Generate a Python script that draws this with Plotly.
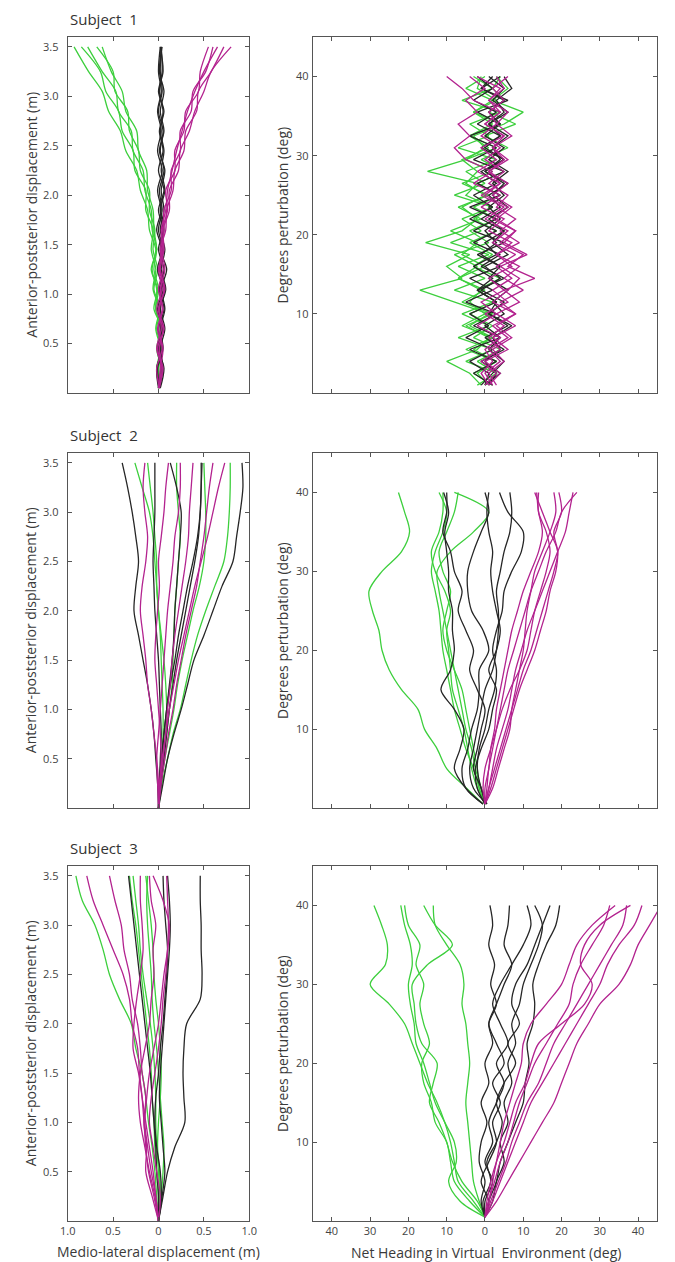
import plotly.graph_objects as go

# ======================= DATA =======================
# ---- Subject 1, left panel (medio-lateral x vs anterior-posterior y) ----
S1_LEFT_Y = [0.05, 0.25, 0.45, 0.65, 0.85, 1.05, 1.25, 1.45, 1.65, 1.85, 2.05, 2.25, 2.45, 2.65, 2.85, 3.05, 3.25, 3.5]
S1_LEFT_GREEN = [
    [0.00, 0.03, -0.02, 0.03, -0.03, -0.02, -0.07, -0.03, -0.10, -0.12, -0.20, -0.24, -0.36, -0.42, -0.55, -0.62, -0.77, -0.93],
    [0.01, -0.02, 0.02, -0.03, 0.01, -0.06, -0.03, -0.08, -0.06, -0.14, -0.14, -0.26, -0.28, -0.40, -0.44, -0.58, -0.64, -0.85],
    [0.00, 0.02, -0.01, 0.04, -0.05, -0.01, -0.08, -0.02, -0.07, -0.08, -0.15, -0.17, -0.28, -0.30, -0.44, -0.47, -0.62, -0.78],
    [0.01, 0.00, 0.03, -0.02, 0.02, -0.05, -0.01, -0.06, -0.04, -0.10, -0.10, -0.20, -0.22, -0.32, -0.34, -0.48, -0.50, -0.68],
    [0.00, 0.03, 0.00, 0.02, -0.03, 0.00, -0.05, -0.02, -0.05, -0.06, -0.12, -0.13, -0.22, -0.24, -0.36, -0.40, -0.52, -0.62],
]
S1_LEFT_BLACK = [
    [0.02, 0.06, 0.00, 0.05, 0.01, 0.07, 0.02, 0.05, 0.00, 0.04, 0.01, 0.06, 0.02, 0.05, 0.00, 0.04, 0.02, 0.03],
    [0.00, -0.02, 0.04, 0.00, 0.06, 0.01, 0.06, 0.00, 0.05, 0.00, 0.06, 0.00, 0.05, 0.01, 0.06, 0.00, 0.05, 0.02],
    [0.01, 0.05, 0.02, 0.07, 0.02, 0.08, 0.03, 0.07, 0.02, 0.06, 0.03, 0.07, 0.01, 0.06, 0.02, 0.06, 0.01, 0.04],
    [0.00, 0.03, -0.01, 0.04, -0.01, 0.05, -0.01, 0.04, -0.02, 0.03, -0.01, 0.04, -0.01, 0.03, -0.01, 0.03, 0.00, 0.02],
    [0.02, -0.01, 0.05, 0.02, 0.07, 0.03, 0.09, 0.02, 0.06, 0.02, 0.07, 0.03, 0.06, 0.02, 0.05, 0.01, 0.04, 0.03],
]
S1_LEFT_MAGENTA = [
    [0.00, 0.05, -0.01, 0.06, 0.00, 0.07, 0.02, 0.06, 0.05, 0.12, 0.12, 0.22, 0.24, 0.34, 0.40, 0.50, 0.58, 0.80],
    [0.01, -0.02, 0.04, -0.01, 0.05, 0.00, 0.05, 0.02, 0.08, 0.09, 0.16, 0.18, 0.28, 0.30, 0.42, 0.44, 0.58, 0.72],
    [0.00, 0.03, 0.01, 0.05, -0.02, 0.04, 0.00, 0.05, 0.03, 0.08, 0.10, 0.15, 0.20, 0.26, 0.32, 0.40, 0.50, 0.65],
    [0.01, 0.04, -0.02, 0.03, 0.01, 0.06, 0.01, 0.04, 0.06, 0.06, 0.14, 0.14, 0.24, 0.24, 0.36, 0.38, 0.52, 0.60],
    [0.00, 0.02, 0.05, 0.00, 0.04, 0.02, 0.07, 0.03, 0.04, 0.10, 0.08, 0.18, 0.18, 0.28, 0.30, 0.44, 0.46, 0.55],
]

# ---- Subject 1, right panel (net heading x vs perturbation y) ----
S1_RIGHT_Y = [1, 2.5, 4, 5.5, 7, 8.5, 10, 11.5, 13, 14.5, 16, 17.5, 19, 20.5, 22, 23.5, 25, 26.5, 28, 29.5, 31, 32.5, 34, 35.5, 37, 38.5, 40]
S1_RIGHT_GREEN = [
    [1, -2, 3, -3, 2, -4, 1, -8, -17, -6, -10, -4, -15.5, -6, -2, -6, 0, -5, -2, -6, 1, -4, 2, -3, 3, -2, -1],
    [0, 3, -2, 4, -3, 2, -4, 3, -2, 4, -3, 2, -4, 3, -3, 2, -5, -2, -15, -5, 0, -3, 5, 10, 2, 6, 3],
    [-1, -4, -10, -2, 1, -5, 2, -6, 0, -7, -2, -8, 1, -4, 3, -3, 4, -2, 5, -1, 6, 0, 8, 1, 5, 2, 4],
    [-2, 3, -5, 2, -7, 1, -6, 2, -8, 0, -7, 1, -9, -1, -6, 2, -8, 0, -5, 3, -7, 1, -4, 4, -6, 2, -3],
    [2, -3, 3, -5, 2, -6, 0, -4, -1, -7, 0, -6, -2, -9, -1, -7, 1, -6, 2, -5, 3, -4, 4, -3, 2, -5, 0],
]
S1_RIGHT_BLACK = [
    [0, 4, -1, 5, 0, 6, 1, 5, -1, 4, 0, 6, 2, 5, -1, 4, 1, 6, 0, 5, -1, 4, 1, 6, 2, 5, 1],
    [2, -3, 3, -4, 4, -3, 3, -5, 2, -4, 4, -2, 5, -3, 3, -4, 4, -2, 5, -3, 3, -4, 4, -2, 6, -1, 4],
    [1, 3, 0, 4, 2, 7, 1, 3, -2, 2, -3, 3, 0, 5, 1, 6, 2, 5, 0, 4, 2, 6, 1, 5, 3, 7, 5],
    [-1, 2, 5, 1, 4, 0, 5, 2, 6, 1, 4, -1, 3, 0, 4, 1, 5, 2, 6, 1, 5, 0, 4, 1, 5, -1, 2],
    [0, 1, -4, 2, -5, 1, -4, 3, -2, 5, -1, 4, -3, 3, -4, 2, -3, 3, -1, 5, 0, 4, -2, 3, -3, 2, -2],
]
S1_RIGHT_MAGENTA = [
    [1, 4, 0, 6, 2, 8, 3, 9, 5, 13, 6, 10, 4, 8, 2, 6, 0, 4, -2, 3, -1, 5, 0, 4, -3, -6, -10],
    [2, 0, 4, 1, 6, 2, 8, 4, 10, 5, 9, 3, 7, 1, 5, -1, 4, -3, 2, -5, -8, -4, -7, -2, -5, 0, -4],
    [0, 3, -1, 4, 1, 5, 0, 6, 2, 7, 3, 8, 2, 6, 0, 5, -1, 4, 1, 6, 2, 5, 0, 4, 1, 5, 3],
    [1, -1, 2, 0, 4, -2, 3, -1, 5, 1, 7, 3, 9, 4, 8, 3, 6, 1, 5, 0, 4, -1, 3, 1, 5, 2, 6],
    [3, 1, 5, 2, 7, 3, 8, 2, 6, 9, 4, 11, 5, 8, 3, 7, 2, 6, 1, 5, 2, 7, 3, 6, 1, 4, -2],
]

# ---- Subject 2, left panel ----
S2_LEFT_Y = [0, 0.25, 0.5, 0.75, 1.0, 1.25, 1.5, 1.75, 2.0, 2.25, 2.5, 2.75, 3.0, 3.25, 3.5]
S2_LEFT_GREEN = [
    [0, 0.02, 0.04, 0.05, 0.05, 0.04, 0.03, 0.02, 0.00, -0.02, -0.04, -0.06, -0.10, -0.18, -0.26],
    [0, 0.02, 0.05, 0.08, 0.09, 0.08, 0.06, 0.03, 0.00, -0.02, -0.02, -0.04, -0.06, -0.09, -0.12],
    [0, 0.03, 0.06, 0.09, 0.12, 0.15, 0.16, 0.17, 0.18, 0.20, 0.22, 0.24, 0.22, 0.20, 0.20],
    [0, 0.04, 0.10, 0.16, 0.24, 0.30, 0.36, 0.43, 0.52, 0.62, 0.72, 0.76, 0.78, 0.79, 0.79],
    [0, 0.03, 0.07, 0.12, 0.17, 0.21, 0.26, 0.32, 0.38, 0.45, 0.50, 0.52, 0.52, 0.51, 0.50],
]
S2_LEFT_BLACK = [
    [0, -0.01, -0.03, -0.05, -0.08, -0.12, -0.17, -0.22, -0.27, -0.25, -0.22, -0.25, -0.29, -0.34, -0.40],
    [0, 0.01, 0.02, 0.03, 0.02, 0.01, 0.00, -0.02, -0.04, -0.05, -0.06, -0.05, -0.04, -0.04, -0.04],
    [0, 0.02, 0.04, 0.06, 0.09, 0.12, 0.15, 0.17, 0.18, 0.20, 0.22, 0.24, 0.25, 0.20, 0.13],
    [0, 0.03, 0.06, 0.09, 0.12, 0.16, 0.20, 0.25, 0.30, 0.35, 0.40, 0.44, 0.46, 0.47, 0.47],
    [0, 0.01, 0.03, 0.06, 0.09, 0.13, 0.18, 0.22, 0.27, 0.32, 0.38, 0.43, 0.46, 0.47, 0.48],
    [0, 0.05, 0.10, 0.17, 0.25, 0.32, 0.39, 0.50, 0.60, 0.70, 0.82, 0.86, 0.90, 0.93, 0.92],
]
S2_LEFT_MAGENTA = [
    [0, 0.00, -0.02, -0.05, -0.08, -0.12, -0.14, -0.17, -0.20, -0.18, -0.14, -0.12, -0.15, -0.17, -0.15],
    [0, 0.02, 0.03, 0.02, 0.00, -0.02, -0.04, -0.03, -0.01, 0.01, 0.00, 0.03, 0.06, 0.08, 0.11],
    [0, 0.02, 0.05, 0.08, 0.10, 0.13, 0.15, 0.18, 0.22, 0.26, 0.30, 0.33, 0.34, 0.36, 0.38],
    [0, 0.03, 0.07, 0.11, 0.16, 0.20, 0.25, 0.30, 0.36, 0.42, 0.46, 0.50, 0.53, 0.56, 0.60],
    [0, 0.01, 0.04, 0.08, 0.12, 0.17, 0.22, 0.28, 0.34, 0.40, 0.47, 0.54, 0.60, 0.66, 0.73],
    [0, -0.01, -0.02, 0.00, 0.02, 0.04, 0.06, 0.08, 0.10, 0.13, 0.16, 0.18, 0.22, 0.24, 0.24],
]

# ---- Subject 2, right panel ----
S2_RIGHT_Y = [0.5, 2.5, 5, 7.5, 10, 12.5, 15, 17.5, 20, 22.5, 25, 27.5, 30, 32.5, 35, 37.5, 40]
S2_RIGHT_GREEN = [
    [-0.5, -4.8, -10, -12.5, -15.8, -17.5, -21.8, -25, -26.9, -27.7, -29.4, -30.3, -26.9, -21.8, -19.7, -21, -22.6],
    [0, -1.5, -3, -5, -6.5, -8, -9, -10, -11, -11.5, -12, -13, -14, -13, -11, -10, -12],
    [0, -1, -2.5, -3.5, -5, -6, -7, -8, -9, -10, -11, -12, -12.5, -9, -3, 1, -8],
    [0, -2, -3.5, -4.5, -5.5, -7, -8.5, -9, -9.5, -10, -9, -10.5, -13, -14, -12, -11, -11],
    [0, -1.5, -2, -3, -4, -5, -6, -8, -10, -11, -10, -9, -11, -12, -10, -8, -7],
]
S2_RIGHT_BLACK = [
    [-0.5, -5, -8, -6.5, -5.5, -8, -11.5, -9, -8, -8.5, -8.5, -9.5, -9.5, -10, -10.5, -9.5, -10.8],
    [-0.5, -5, -6, -4.5, -3.5, -2, -1.5, -1.5, 1, -0.5, -3.5, -4.5, -4.5, -3, -1, 1, 0],
    [0.5, -1, -2, -1.5, 0, 1, 2.5, 3, 2, 3, 4.5, 5, 7, 9.5, 10, 6, 3.8],
    [0.5, -3, -4, -3, -2, -1, 0, 2, 3, 3.5, 3.5, 3, 4, 5, 6.5, 7, 6.5],
    [0, -2, -2.5, -1, 1, 2, 3, 1, 3, 4, 3, 2, 1.5, 2, 1, 0.5, 1],
    [0, -1, -3, -2, -1, 0, -2, -4, -3, -5, -7, -6, -8, -9, -11, -10, -10],
]
S2_RIGHT_MAGENTA = [
    [0, 0.5, 1, 2, 3, 4, 5, 6, 7.5, 9, 10.5, 12, 14, 16, 18.5, 20, 24],
    [0, 1, 2.5, 4, 5.5, 7, 8.5, 10, 12, 13.5, 15, 16.5, 18, 19, 17, 15, 13],
    [0, 1.5, 3, 4.5, 6, 7.5, 9, 11, 13, 14.5, 16, 17, 18.5, 19, 18, 20, 19.3],
    [0, 0, 1, 1.5, 2.5, 3, 4, 5, 6, 7, 8.5, 10, 12, 14, 15, 14, 13.5],
    [0, 1, 2, 3, 4.5, 6, 7, 8, 9.5, 11, 13, 15, 17, 19, 21, 22, 23],
    [0, 2, 3.5, 5, 6.5, 7, 8, 9, 10, 10.5, 11, 12, 13, 15, 17, 18.5, 18],
    [0, -0.5, 0, 1.5, 3, 4.5, 6.5, 9, 11, 12, 13, 14.5, 16, 17, 16, 14, 14],
]

# ---- Subject 3, left panel ----
S3_LEFT_Y = [0, 0.25, 0.5, 0.75, 1.0, 1.25, 1.5, 1.75, 2.0, 2.25, 2.5, 2.75, 3.0, 3.25, 3.5]
S3_LEFT_GREEN = [
    [0, -0.02, -0.04, -0.07, -0.11, -0.14, -0.18, -0.25, -0.30, -0.43, -0.54, -0.61, -0.70, -0.84, -0.91],
    [0, 0.00, -0.02, -0.04, -0.05, -0.07, -0.08, -0.10, -0.13, -0.16, -0.19, -0.22, -0.25, -0.29, -0.32],
    [0, 0.02, 0.01, -0.01, 0.00, 0.02, 0.03, 0.02, 0.00, -0.03, -0.05, -0.06, -0.08, -0.11, -0.14],
    [0, 0.01, 0.00, -0.02, -0.03, -0.03, -0.04, -0.06, -0.09, -0.13, -0.17, -0.20, -0.22, -0.25, -0.28],
    [0, 0.03, 0.05, 0.06, 0.04, 0.02, 0.00, -0.02, -0.05, -0.07, -0.08, -0.10, -0.12, -0.13, -0.12],
]
S3_LEFT_BLACK = [
    [0, 0.05, 0.10, 0.18, 0.29, 0.28, 0.27, 0.28, 0.31, 0.46, 0.48, 0.47, 0.47, 0.46, 0.46],
    [0, 0.04, 0.07, 0.05, 0.03, 0.01, 0.02, 0.04, 0.06, 0.08, 0.10, 0.12, 0.13, 0.12, 0.10],
    [0, 0.03, 0.02, -0.02, -0.04, -0.03, 0.00, 0.02, 0.05, 0.07, 0.09, 0.10, 0.08, 0.06, 0.05],
    [0, 0.00, -0.02, -0.03, -0.05, -0.07, -0.09, -0.12, -0.15, -0.18, -0.21, -0.24, -0.27, -0.30, -0.33],
]
S3_LEFT_MAGENTA = [
    [0, -0.05, -0.11, -0.14, -0.16, -0.18, -0.21, -0.23, -0.29, -0.32, -0.39, -0.50, -0.61, -0.72, -0.79],
    [0, -0.07, -0.14, -0.13, -0.16, -0.14, -0.18, -0.20, -0.23, -0.29, -0.32, -0.38, -0.41, -0.48, -0.54],
    [0, -0.04, -0.10, -0.15, -0.20, -0.22, -0.20, -0.15, -0.10, -0.08, -0.05, -0.06, -0.03, -0.08, -0.10],
    [0, 0.02, -0.02, -0.06, -0.10, -0.08, -0.04, 0.00, 0.03, 0.05, 0.08, 0.10, 0.11, 0.10, 0.09],
    [0, -0.03, -0.08, -0.12, -0.15, -0.13, -0.10, -0.05, 0.00, 0.03, 0.06, 0.10, 0.12, 0.05, -0.06],
    [0, -0.03, -0.06, -0.10, -0.14, -0.18, -0.22, -0.28, -0.27, -0.24, -0.20, -0.17, -0.18, -0.20, -0.20],
]

# ---- Subject 3, right panel ----
S3_RIGHT_Y = [0.5, 2.5, 5, 7.5, 10, 12.5, 15, 17.5, 20, 22.5, 25, 27.5, 30, 32.5, 35, 37.5, 40]
S3_RIGHT_GREEN = [
    [0, -3, -7, -8, -9, -10.5, -12.5, -15, -17, -19, -21, -25, -30, -26, -25.5, -27, -29],
    [0, -6.5, -9.5, -7.5, -8, -10.5, -13, -14.5, -16, -18, -18.5, -19.5, -20, -19, -19.5, -21, -22],
    [0, -2, -6, -8.5, -10, -12, -14.5, -13.5, -12.5, -16.5, -18, -18.5, -19, -15, -8.5, -13, -16],
    [0, -1.5, -3, -3.5, -4, -4.5, -5, -4.5, -4, -4.5, -5, -6, -5.5, -6.5, -10, -13, -13.5],
    [0, -4, -8, -9, -10, -13, -14, -16, -16.5, -14.5, -16, -17, -16, -18, -17, -20, -21],
]
S3_RIGHT_BLACK = [
    [0, -1, 0, -1.5, -1, 0.5, -1, 1, 0, 2, 1, 3, 1.5, 2.5, 1, 2, 1.3],
    [0, 1, -1, 1, 3, 2, 4, 2, 5, 3, 1, 3, 5, 7, 5, 6, 6.4],
    [0, 2, 3, 5, 4, 6, 5, 7, 6, 8, 7, 9, 10, 12, 14, 15, 13],
    [0, 1, 3, 4, 6, 8, 10, 10.5, 11.5, 11, 12.5, 13, 12.5, 14, 16, 18.5, 19.5],
    [0, 0, 2, 0, 2, 1, 3, 5, 3, 6, 4, 2, 4, 7, 10, 12, 11],
    [0, -0.5, 1.5, 0.5, 3, 4.5, 3, 5, 8, 6, 9, 7, 8, 11, 13, 15, 17],
]
S3_RIGHT_MAGENTA = [
    [0, 1, 2.5, 4, 6, 7.5, 9, 11, 13, 16, 19, 22, 23, 25, 28, 31, 32.6],
    [0, 1.5, 3.5, 5.5, 7, 9, 11, 14, 16, 18, 21, 24, 27, 30, 33, 36, 37],
    [0, 2, 4, 6, 8, 10, 12, 15, 18, 21, 24, 27, 30, 32, 35, 39, 41],
    [0, 3, 6, 9, 12, 15, 18, 20, 22, 24, 27, 30, 35, 38, 40, 43, 46],
    [0, 1, 2, 3, 4, 5, 6.5, 8, 9.5, 10, 12, 16, 20, 22, 24, 28, 34],
    [0, 0.5, 1.5, 3, 5, 6.5, 8, 10.5, 12, 14, 20, 26, 28, 25, 26, 30, 38],
]

SUBJECT_TITLES = ["Subject  1", "Subject  2", "Subject  3"]
LEFT_Y_TITLE = "Anterior-poststerior displacement (m)"
RIGHT_Y_TITLE = "Degrees perturbation (deg)"
LEFT_X_TITLE = "Medio-lateral displacement (m)"
RIGHT_X_TITLE = "Net Heading in Virtual  Environment (deg)"
LEFT_X_TICKS = [-1.0, -0.5, 0, 0.5, 1.0]
LEFT_X_TICKTEXT = ["1.0", "0.5", "0", "0.5", "1.0"]
LEFT_Y_TICKS = [0.5, 1.0, 1.5, 2.0, 2.5, 3.0, 3.5]
LEFT_Y_TICKTEXT = ["0.5", "1.0", "1.5", "2.0", "2.5", "3.0", "3.5"]
RIGHT_X_TICKS = [-40, -30, -20, -10, 0, 10, 20, 30, 40]
RIGHT_X_TICKTEXT = ["40", "30", "20", "10", "0", "10", "20", "30", "40"]
RIGHT_Y_TICKS = [10, 20, 30, 40]

# ======================= STYLE =======================
PAGE_OFF = 8                      # browser body margin
W, H = 675 - PAGE_OFF, 1262 - PAGE_OFF
GREEN = "#3dcf3d"
MAGENTA = "#b3238f"
BLACK = "#262626"
FONT = "Open Sans"


def fx(px):
    return (px - PAGE_OFF) / W


def fy(px):
    return 1 - (px - PAGE_OFF) / H


LEFT_X_PX = (61, 247)
RIGHT_X_PX = (312, 665)
ROWS_Y_PX = [(37, 393), (453, 808), (866, 1221)]

panels = [
    (0, "L", S1_LEFT_Y, S1_LEFT_GREEN, S1_LEFT_BLACK, S1_LEFT_MAGENTA, "spline"),
    (0, "R", S1_RIGHT_Y, S1_RIGHT_GREEN, S1_RIGHT_BLACK, S1_RIGHT_MAGENTA, "linear"),
    (1, "L", S2_LEFT_Y, S2_LEFT_GREEN, S2_LEFT_BLACK, S2_LEFT_MAGENTA, "spline"),
    (1, "R", S2_RIGHT_Y, S2_RIGHT_GREEN, S2_RIGHT_BLACK, S2_RIGHT_MAGENTA, "spline"),
    (2, "L", S3_LEFT_Y, S3_LEFT_GREEN, S3_LEFT_BLACK, S3_LEFT_MAGENTA, "spline"),
    (2, "R", S3_RIGHT_Y, S3_RIGHT_GREEN, S3_RIGHT_BLACK, S3_RIGHT_MAGENTA, "spline"),
]

fig = go.Figure()
layout_axes = {}
annotations = []

axis_common = dict(
    showline=True, linecolor="#555", linewidth=1, mirror="ticks",
    ticks="inside", ticklen=4, tickcolor="#555", tickwidth=1,
    showgrid=False, zeroline=False,
    tickfont=dict(family=FONT, size=11, color="#444"),
)

for i, (row, side, ygrid, greens, blacks, magentas, shape) in enumerate(panels):
    n = i + 1
    xa = "x" if n == 1 else f"x{n}"
    ya = "y" if n == 1 else f"y{n}"
    for series, color in ((greens, GREEN), (blacks, BLACK), (magentas, MAGENTA)):
        for xs in series:
            fig.add_trace(go.Scatter(
                x=xs, y=ygrid, mode="lines", xaxis=xa, yaxis=ya,
                line=dict(color=color, width=1.3, shape=shape,
                          smoothing=0.9 if shape == "spline" else None),
                showlegend=False, hoverinfo="skip",
            ))
    xpx = LEFT_X_PX if side == "L" else RIGHT_X_PX
    ypx = ROWS_Y_PX[row]
    xdom = [fx(xpx[0]), fx(xpx[1])]
    ydom = [fy(ypx[1]), fy(ypx[0])]
    bottom = row == 2
    if side == "L":
        xaxis = dict(axis_common, domain=xdom, range=[-1, 1], tickvals=LEFT_X_TICKS,
                     ticktext=LEFT_X_TICKTEXT, showticklabels=bottom, anchor=ya)
        yaxis = dict(axis_common, domain=ydom, range=[0, 3.6], tickvals=LEFT_Y_TICKS,
                     ticktext=LEFT_Y_TICKTEXT, anchor=xa, ticklabelstandoff=6)
    else:
        xaxis = dict(axis_common, domain=xdom, range=[-45, 45], tickvals=RIGHT_X_TICKS,
                     ticktext=RIGHT_X_TICKTEXT, showticklabels=bottom, anchor=ya)
        yaxis = dict(axis_common, domain=ydom, range=[0, 45], tickvals=RIGHT_Y_TICKS,
                     anchor=xa, ticklabelstandoff=1)
    layout_axes["xaxis" if n == 1 else f"xaxis{n}"] = xaxis
    layout_axes["yaxis" if n == 1 else f"yaxis{n}"] = yaxis

    cy = fy((ypx[0] + ypx[1]) / 2)
    annotations.append(dict(
        text=LEFT_Y_TITLE if side == "L" else RIGHT_Y_TITLE,
        x=fx(23 if side == "L" else 281), y=cy, xref="paper", yref="paper",
        textangle=-90, showarrow=False, xanchor="center", yanchor="middle",
        font=dict(family=FONT, size=14, color="#3a3a3a"),
    ))

for row, title in enumerate(SUBJECT_TITLES):
    annotations.append(dict(
        text=title, x=fx(61), y=fy(ROWS_Y_PX[row][0] - 18), xref="paper", yref="paper",
        showarrow=False, xanchor="left", yanchor="middle",
        font=dict(family=FONT, size=15, color="#333"),
    ))

annotations.append(dict(text=LEFT_X_TITLE, x=fx(154), y=fy(1251), xref="paper", yref="paper",
                        showarrow=False, xanchor="center", yanchor="middle",
                        font=dict(family=FONT, size=14, color="#3a3a3a")))
annotations.append(dict(text=RIGHT_X_TITLE, x=fx(490), y=fy(1252), xref="paper", yref="paper",
                        showarrow=False, xanchor="center", yanchor="middle",
                        font=dict(family=FONT, size=14, color="#3a3a3a")))

fig.update_layout(
    width=W, height=H, margin=dict(l=0, r=0, t=0, b=0),
    paper_bgcolor="white", plot_bgcolor="white",
    showlegend=False, annotations=annotations, **layout_axes,
)

fig.write_html("out.html")
